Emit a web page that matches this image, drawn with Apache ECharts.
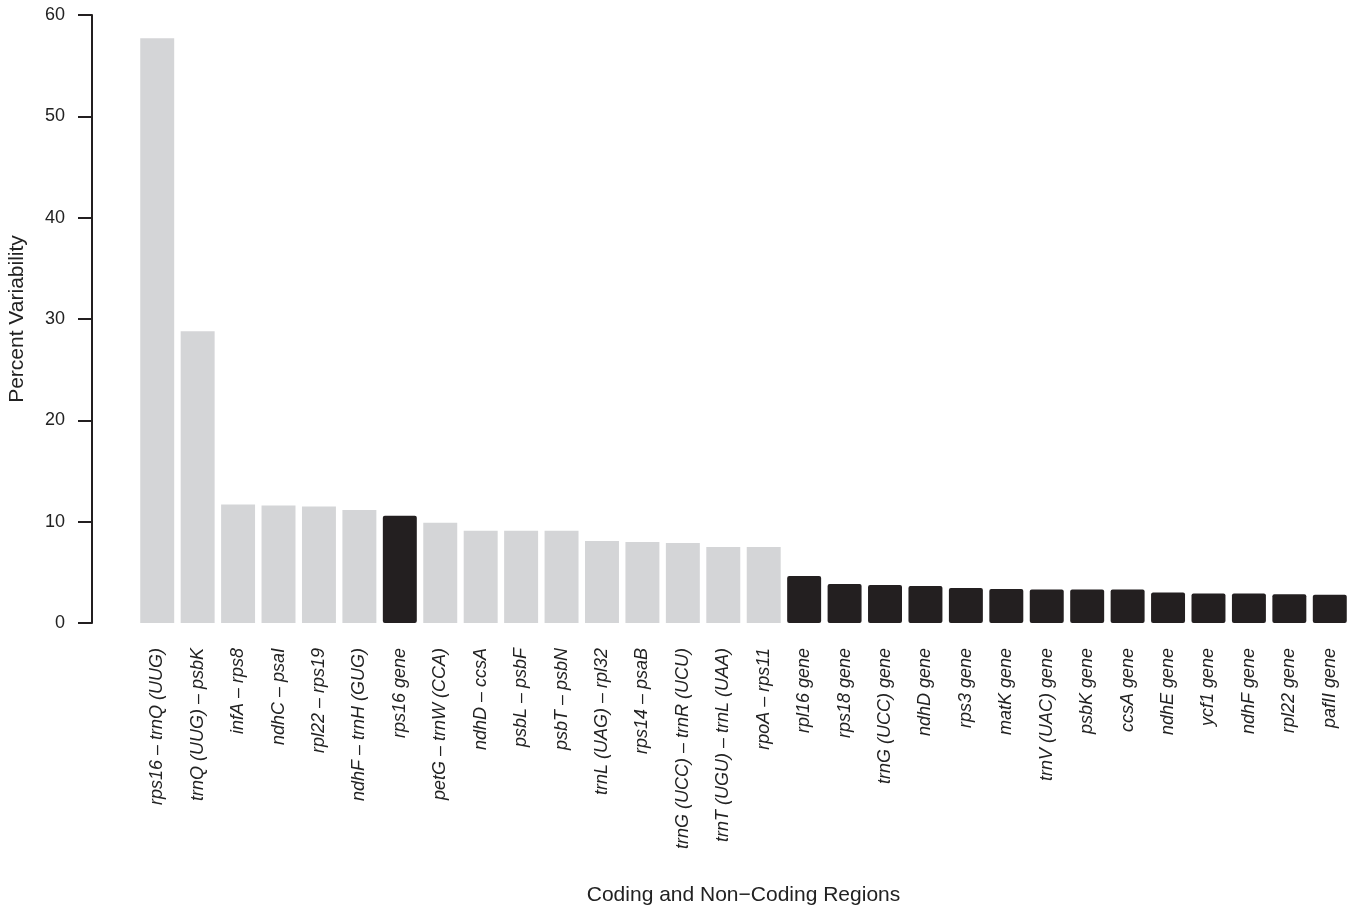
<!DOCTYPE html>
<html>
<head>
<meta charset="utf-8">
<script src="https://cdn.jsdelivr.net/npm/echarts@6/dist/echarts.min.js"></script>
<style>
  html, body { margin: 0; padding: 0; background: #fff; }
  #chart { width: 1352px; height: 907px; }
</style>
</head>
<body>
<div id="chart"></div>
<script>
// regions, left to right
const regions = [
  "rps16 – trnQ (UUG)", "trnQ (UUG) – psbK", "infA – rps8", "ndhC – psaI",
  "rpl22 – rps19", "ndhF – trnH (GUG)", "rps16 gene", "petG – trnW (CCA)",
  "ndhD – ccsA", "psbL – psbF", "psbT – psbN", "trnL (UAG) – rpl32",
  "rps14 – psaB", "trnG (UCC) – trnR (UCU)", "trnT (UGU) – trnL (UAA)", "rpoA – rps11",
  "rpl16 gene", "rps18 gene", "trnG (UCC) gene", "ndhD gene", "rps3 gene",
  "matK gene", "trnV (UAC) gene", "psbK gene", "ccsA gene", "ndhE gene",
  "ycf1 gene", "ndhF gene", "rpl22 gene", "pafII gene"
];

// percent variability
const variability = [
  57.7, 28.8, 11.7, 11.6, 11.5, 11.15, 10.58, 9.9,
  9.1, 9.1, 9.1, 8.1, 8.0, 7.9, 7.5, 7.5,
  4.65, 3.85, 3.75, 3.65, 3.45, 3.36, 3.3, 3.3, 3.3,
  3.0, 2.92, 2.92, 2.83, 2.8
];

// true = coding (gene) region
const isCoding = regions.map(r => r.endsWith(" gene"));

const yTicks = [0, 10, 20, 30, 40, 50, 60];

const chart = echarts.init(document.getElementById("chart"));
const font = "'Liberation Sans', Arial, sans-serif";

chart.setOption({
  animation: false,
  grid: { left: 137, right: 2, top: 15, bottom: 284, outerBoundsMode: "none" },
  xAxis: {
    type: "category",
    data: regions,
    name: "Coding and Non−Coding Regions",
    nameLocation: "middle",
    nameGap: 262,
    nameTextStyle: { fontFamily: font, fontSize: 21, color: "#222" },
    axisLine: { show: false },
    axisTick: { show: false },
    axisLabel: {
      rotate: 90,
      interval: 0,
      margin: 25,
      fontFamily: font,
      fontSize: 18,
      fontStyle: "italic",
      color: "#222"
    }
  },
  yAxis: {
    type: "value",
    min: yTicks[0],
    max: yTicks[yTicks.length - 1],
    interval: 10,
    offset: 45,
    name: "Percent Variability",
    nameLocation: "middle",
    nameGap: 64,
    nameTextStyle: { fontFamily: font, fontSize: 21, color: "#222" },
    axisLine: { show: true, lineStyle: { color: "#231f20", width: 2 } },
    axisTick: { show: true, length: 14, lineStyle: { color: "#231f20", width: 2 } },
    axisLabel: { margin: 27, fontFamily: font, fontSize: 18, color: "#222" },
    splitLine: { show: false }
  },
  series: [{
    type: "bar",
    barCategoryGap: "16%",
    data: variability.map((v, i) => ({
      value: v,
      itemStyle: isCoding[i]
        ? { color: "#231f20", borderRadius: 2 }
        : { color: "#d4d5d7" }
    }))
  }]
});
</script>
</body>
</html>
